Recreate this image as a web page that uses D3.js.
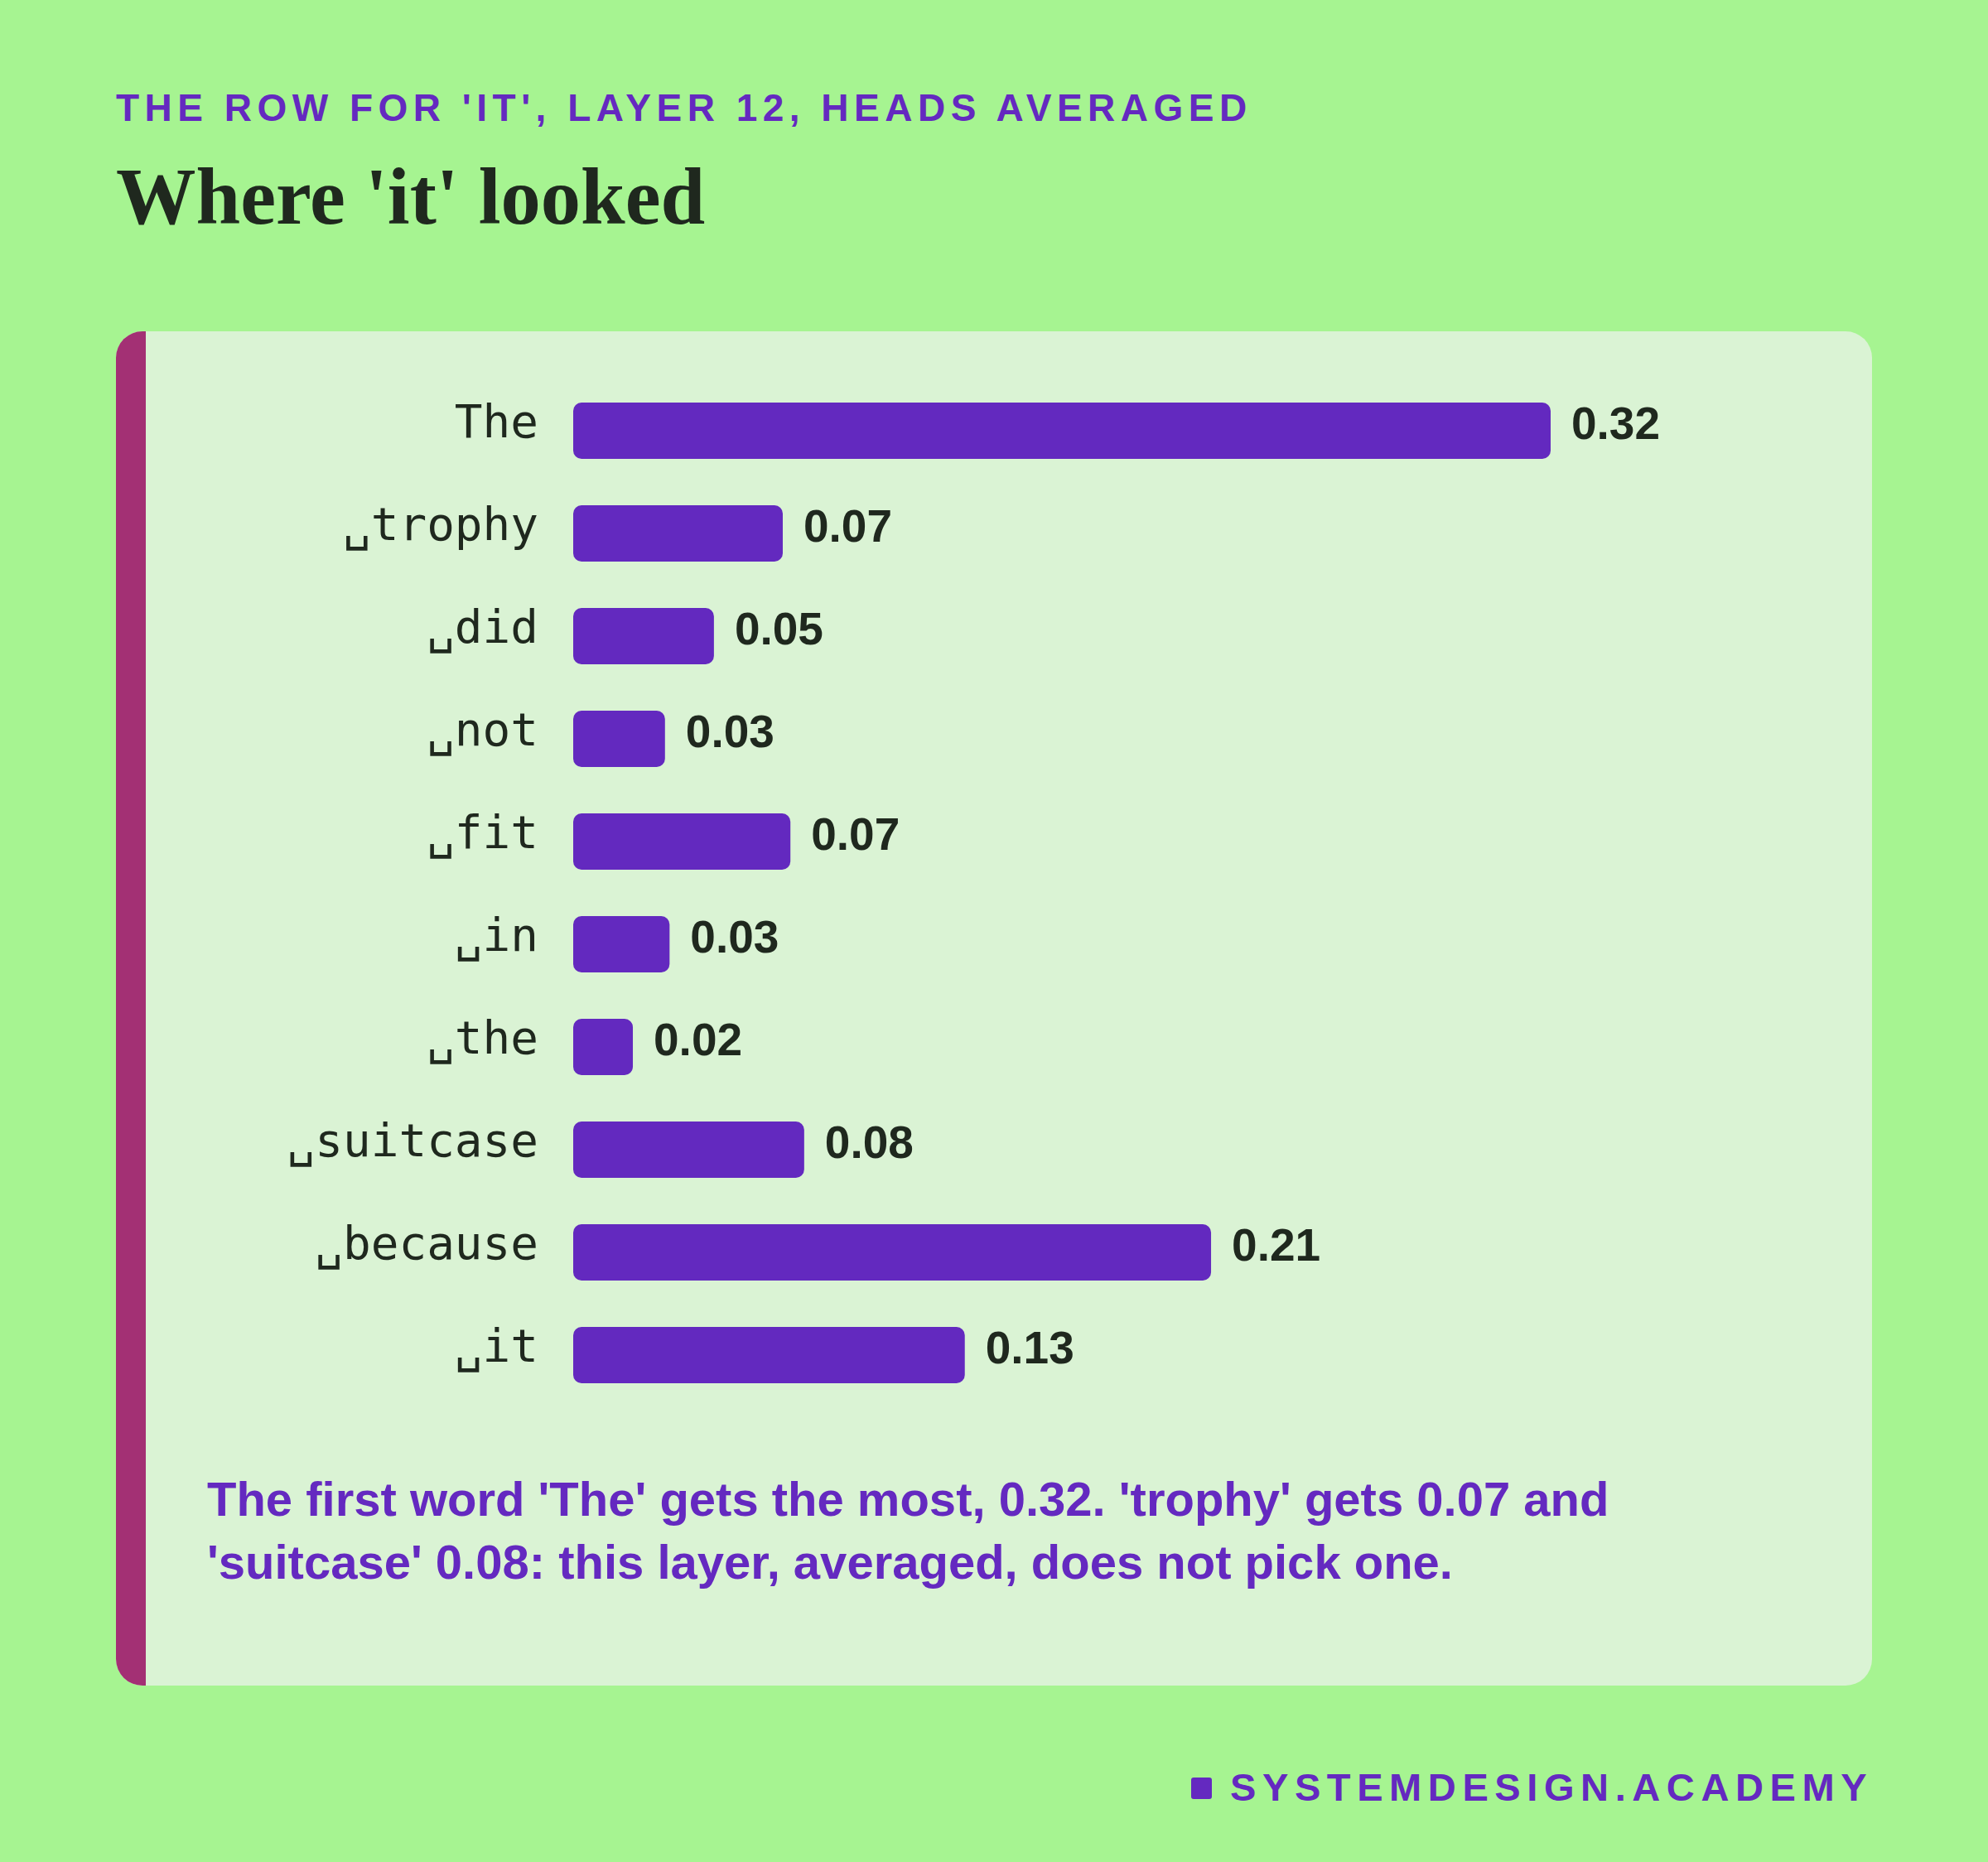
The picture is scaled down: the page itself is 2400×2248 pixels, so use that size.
<!DOCTYPE html>
<html>
<head>
<meta charset="utf-8">
<script src="https://cdn.jsdelivr.net/npm/d3@7"></script>
<style>
  html, body { margin: 0; padding: 0; background: #a6f491; }
  svg { display: block; }
</style>
</head>
<body>
<svg id="chart" width="2400" height="2248"></svg>
<script>
// ---- data ----
const tokens = ["The", "\u2423trophy", "\u2423did", "\u2423not", "\u2423fit", "\u2423in", "\u2423the", "\u2423suitcase", "\u2423because", "\u2423it"];
const weights = [0.3195, 0.0685, 0.046, 0.030, 0.071, 0.0315, 0.0195, 0.0755, 0.2085, 0.128];
const valueLabels = ["0.32", "0.07", "0.05", "0.03", "0.07", "0.03", "0.02", "0.08", "0.21", "0.13"];
const eyebrow = "THE ROW FOR 'IT', LAYER 12, HEADS AVERAGED";
const title = "Where 'it' looked";
const noteLines = [
  "The first word 'The' gets the most, 0.32. 'trophy' gets 0.07 and",
  "'suitcase' 0.08: this layer, averaged, does not pick one."
];
const footer = "SYSTEMDESIGN.ACADEMY";

// ---- styles ----
const C = {
  bg: "#a6f491",
  card: "#daf3d4",
  accent: "#a33074",
  bar: "#6329bf",
  ink: "#1f281e",
  purple: "#6429c0"
};

const svg = d3.select("#chart");
svg.append("rect").attr("width", 2400).attr("height", 2248).attr("fill", C.bg);

// header
svg.append("text")
  .attr("x", 140).attr("y", 146)
  .attr("font-family", "'Liberation Sans', Arial, sans-serif")
  .attr("font-weight", 700).attr("font-size", 46)
  .attr("letter-spacing", 6.5)
  .attr("fill", C.purple)
  .text(eyebrow);

svg.append("text")
  .attr("x", 140).attr("y", 270)
  .attr("font-family", "'Liberation Serif', 'Times New Roman', serif")
  .attr("font-weight", 700).attr("font-size", 96.5)
  .attr("fill", C.ink)
  .text(title);

// card
const card = { x: 140, y: 400, w: 2120, h: 1635, r: 32 };
const defs = svg.append("defs");
defs.append("clipPath").attr("id", "cardClip")
  .append("rect")
  .attr("x", card.x).attr("y", card.y).attr("width", card.w).attr("height", card.h)
  .attr("rx", card.r).attr("ry", card.r);

const cardG = svg.append("g").attr("clip-path", "url(#cardClip)");
cardG.append("rect")
  .attr("x", card.x).attr("y", card.y).attr("width", card.w).attr("height", card.h)
  .attr("fill", C.card);
cardG.append("rect")
  .attr("x", card.x).attr("y", card.y).attr("width", 36).attr("height", card.h)
  .attr("fill", C.accent);

// scales
const x = d3.scaleLinear().domain([0, d3.max(weights)]).range([692, 1872]);
const y = d3.scaleBand().domain(tokens).range([458, 1698]).paddingInner(0.4516).paddingOuter(0.2258);

const rows = svg.append("g").selectAll("g").data(tokens).join("g");

rows.append("rect")
  .attr("x", x(0))
  .attr("y", d => y(d))
  .attr("width", (d, i) => x(weights[i]) - x(0))
  .attr("height", y.bandwidth())
  .attr("rx", 10).attr("ry", 10)
  .attr("fill", C.bar);

rows.append("text")
  .attr("x", x(0) - 42)
  .attr("y", d => y(d) + y.bandwidth() / 2 + 8)
  .attr("text-anchor", "end")
  .attr("font-family", "'DejaVu Sans Mono', monospace")
  .attr("font-size", 56)
  .attr("fill", C.ink)
  .text(d => d);

rows.append("text")
  .attr("x", (d, i) => x(weights[i]) + 25)
  .attr("y", d => y(d) + y.bandwidth() / 2 + 10)
  .attr("font-family", "'Liberation Sans', Arial, sans-serif")
  .attr("font-weight", 700)
  .attr("font-size", 55)
  .attr("fill", C.ink)
  .text((d, i) => valueLabels[i]);

// note
svg.append("g").selectAll("text").data(noteLines).join("text")
  .attr("x", 250)
  .attr("y", (d, i) => 1830 + i * 76)
  .attr("font-family", "'Liberation Sans', Arial, sans-serif")
  .attr("font-weight", 700)
  .attr("font-size", 58)
  .attr("fill", C.purple)
  .text(d => d);

// footer
svg.append("rect")
  .attr("x", 1438).attr("y", 2146).attr("width", 25).attr("height", 26)
  .attr("rx", 3).attr("fill", C.purple);
svg.append("text")
  .attr("x", 1485).attr("y", 2174)
  .attr("font-family", "'Liberation Sans', Arial, sans-serif")
  .attr("font-weight", 700).attr("font-size", 47)
  .attr("letter-spacing", 7.6)
  .attr("fill", C.purple)
  .text(footer);
</script>
</body>
</html>
